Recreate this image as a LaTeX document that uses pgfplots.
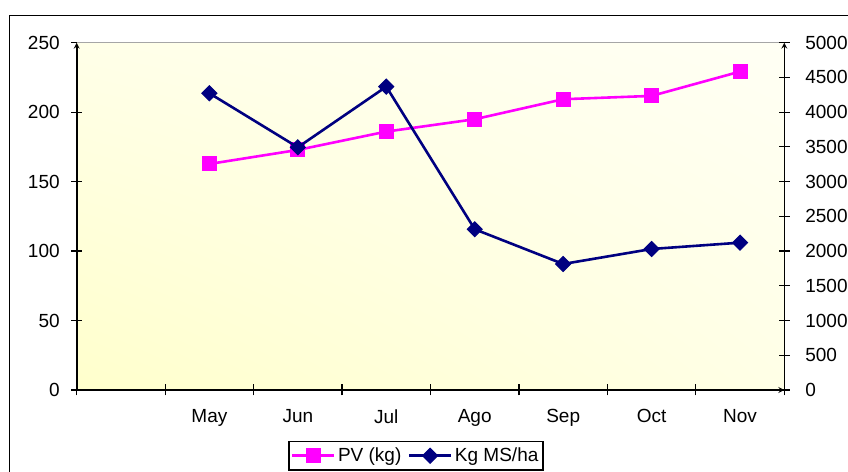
\documentclass[border=0pt]{standalone}
\usepackage{fontspec}
\setmainfont{Liberation Sans}
\usepackage{pgfplots}
\pgfplotsset{compat=1.18}
\usetikzlibrary{shadings}

\definecolor{pvmag}{RGB}{255,0,255}
\definecolor{msnavy}{RGB}{0,0,128}
\definecolor{bgll}{RGB}{255,255,204}
\definecolor{bgul}{RGB}{255,255,232}
\definecolor{bglr}{RGB}{255,255,230}
\definecolor{bgur}{RGB}{255,255,244}

\pgfplotsset{
  base/.style={
    scale only axis, width=707.6bp, height=347.3bp,
    at={(76.7bp,82bp)}, anchor=south west,
    xmin=0, xmax=8,
    tick align=center, major tick length=11bp,
    tick style={black, line width=1.2bp},
    axis line style={-, black, line width=1.6bp},
    /pgf/number format/assume math mode=true,
    /pgf/number format/1000 sep={},
    tick label style={font=\fontsize{19bp}{22bp}\selectfont},
  },
}

\begin{document}
\begin{tikzpicture}[x=1bp,y=1bp]
\path[use as bounding box] (0,0) rectangle (848,472);
\begin{scope}
\clip (0,0) rectangle (848,472);
\draw[black, line width=1.8bp] (9.5,456.5) rectangle (900,-30);

% PV (kg), left axis
\begin{axis}[base,
  axis x line=bottom, axis y line=left,
  ymin=0, ymax=250, ytick={0,50,...,250},
  xtick={0,1,...,8}, xticklabels={},
  extra x ticks={1.5,2.5,...,7.5},
  extra x tick labels={May,Jun,Jul,Ago,Sep,Oct,Nov},
  extra x tick style={major tick length=0pt},
  xticklabel style={yshift=-16bp},
  yticklabel style={xshift=-8bp},
  axis background/.style={shade, lower left=bgll, upper left=bgul,
    lower right=bglr, upper right=bgur},
  ]
\addplot[pvmag, line width=2.6bp, mark=square*, mark size=7bp,
  mark options={solid, line width=1bp}] coordinates {
(1.5,162.7) (2.5,172.8) (3.5,186.0) (4.5,194.9) (5.5,209.3) (6.5,211.7) (7.5,229.2)
};
\draw[gray!70, line width=1bp] (rel axis cs:0,1) -- (rel axis cs:1,1);
\end{axis}

% Kg MS/ha, right axis
\begin{axis}[base,
  axis y line=right, axis x line=none,
  ymin=0, ymax=5000, ytick={0,500,...,5000},
  yticklabel style={xshift=12bp},
  legend style={at={(0.299,-0.1468)}, anchor=north west,
    draw=black, line width=1.3bp, fill=white,
    font=\fontsize{19bp}{22bp}\selectfont,
    legend columns=-1, inner xsep=2bp, inner ysep=4bp,
    nodes={inner sep=2.5bp},
    /tikz/every even column/.append style={column sep=4bp}},
  legend image code/.code={
    \draw[mark repeat=2, mark phase=2, #1]
      plot coordinates {(0bp,0bp) (21bp,0bp) (42bp,0bp)};},
  ]
\addlegendimage{pvmag, line width=2.6bp, mark=square*, mark size=7bp,
  mark options={solid, line width=1bp}}
\addlegendentry{PV (kg)}
\addplot[msnavy, line width=2.6bp, mark=square*, mark size=5.3bp,
  mark options={solid, line width=1bp, rotate=45}] coordinates {
(1.5,4272) (2.5,3494) (3.5,4367) (4.5,2314) (5.5,1814) (6.5,2030) (7.5,2121)
};
\addlegendentry{Kg MS/ha}
\end{axis}
\end{scope}
\end{tikzpicture}
\end{document}
